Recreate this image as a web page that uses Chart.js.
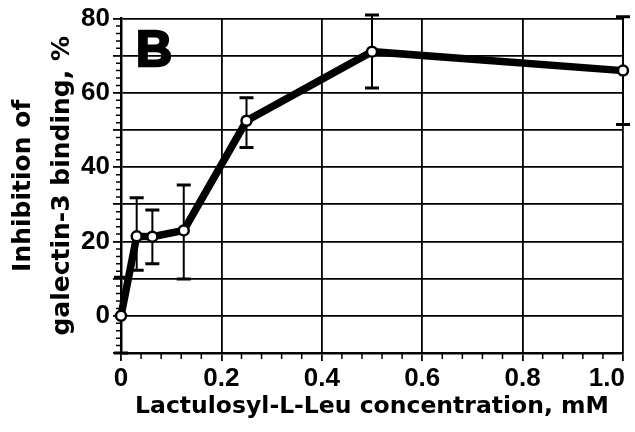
<!DOCTYPE html>
<html>
<head>
<meta charset="utf-8">
<script src="https://cdn.jsdelivr.net/npm/chart.js@4"></script>
<style>
  html, body { margin: 0; padding: 0; background: #fff; }
  #wrap { width: 635px; height: 432px; }
</style>
</head>
<body>
<div id="wrap"><canvas id="inhibChart"></canvas></div>
<script>
// values (panel B)
const concentrations = [0, 0.03125, 0.0625, 0.125, 0.25, 0.5, 1.0];
const inhibition = [0, 21.4, 21.3, 23.0, 52.5, 71.1, 66.0];
const errHigh = [10.4, 31.8, 28.5, 35.2, 58.7, 81.0, 80.5];
const errLow = [-10, 12.3, 14.0, 9.9, 45.3, 61.3, 51.5];
const xTicks = [0, 0.2, 0.4, 0.6, 0.8, 1.0];
const xTickLabels = ['0', '0.2', '0.4', '0.6', '0.8', '1.0'];
const yTicks = [0, 20, 40, 60, 80];

const tickFont = { family: '"Liberation Sans", Arial, sans-serif', weight: 'bold', size: 26 };
const titleFamily = '"DejaVu Sans", sans-serif';

// error bars, minor ticks, x labels and the panel letter
const extras = {
  id: 'extras',
  beforeDatasetsDraw(chart) {
    const { ctx, scales: { x, y } } = chart;
    ctx.save();
    ctx.strokeStyle = '#000';
    concentrations.forEach((c, i) => {
      const px = x.getPixelForValue(c);
      const hi = y.getPixelForValue(errHigh[i]);
      const lo = y.getPixelForValue(errLow[i]);
      ctx.lineWidth = 2;
      ctx.beginPath();
      ctx.moveTo(px, hi);
      ctx.lineTo(px, lo);
      ctx.stroke();
      ctx.lineWidth = 3;
      ctx.beginPath();
      ctx.moveTo(px - 7, hi); ctx.lineTo(px + 7, hi);
      ctx.moveTo(px - 7, lo); ctx.lineTo(px + 7, lo);
      ctx.stroke();
    });
    ctx.restore();
  },
  afterDraw(chart) {
    const { ctx, scales: { x, y } } = chart;
    ctx.save();
    ctx.strokeStyle = '#000';
    ctx.lineWidth = 1.5;
    ctx.beginPath();
    for (let v = -10; v <= 80; v += 2) {
      if (v % 10 === 0) continue;
      const py = y.getPixelForValue(v);
      ctx.moveTo(y.right - 5, py);
      ctx.lineTo(y.right, py);
    }
    for (let k = 1; k < 25; k++) {
      if (k % 5 === 0) continue;
      const px = x.getPixelForValue(k * 0.04);
      ctx.moveTo(px, x.top);
      ctx.lineTo(px, x.top + 6);
    }
    ctx.stroke();

    ctx.fillStyle = '#000';
    ctx.font = 'bold 26px "Liberation Sans", Arial, sans-serif';
    ctx.textBaseline = 'alphabetic';
    xTicks.forEach((v, i) => {
      const last = i === xTicks.length - 1;
      ctx.textAlign = last ? 'right' : 'center';
      ctx.fillText(xTickLabels[i], x.getPixelForValue(v) + (last ? 2 : 0), 386);
    });

    ctx.font = 'bold 50px "Liberation Sans", Arial, sans-serif';
    ctx.textAlign = 'left';
    ctx.lineWidth = 2.5;
    ctx.fillText('B', 136, 66);
    ctx.strokeText('B', 136, 66);
    ctx.restore();
  }
};

new Chart(document.getElementById('inhibChart'), {
  type: 'line',
  data: {
    datasets: [{
      data: concentrations.map((c, i) => ({ x: c, y: inhibition[i] })),
      borderColor: '#000',
      borderWidth: 7.5,
      pointRadius: 5,
      pointBorderWidth: 2.5,
      pointBackgroundColor: '#fff',
      pointBorderColor: '#000',
      tension: 0,
      clip: false
    }]
  },
  options: {
    responsive: true,
    maintainAspectRatio: false,
    animation: false,
    layout: { padding: { top: 16, right: 12, left: 0, bottom: 0 } },
    plugins: {
      legend: { display: false },
      tooltip: { enabled: false }
    },
    scales: {
      x: {
        type: 'linear',
        min: 0,
        max: 1,
        afterFit(s) { s.height = 79; },
        border: { color: '#000', width: 2.5 },
        grid: { color: '#000', lineWidth: 1.8, tickLength: 8 },
        ticks: { stepSize: 0.2, display: false, autoSkip: false },
        title: {
          display: true,
          text: 'Lactulosyl-L-Leu concentration, mM',
          color: '#000',
          font: { family: titleFamily, weight: 'bold', size: 23.5 },
          padding: { top: 0, bottom: 11 }
        }
      },
      y: {
        min: -10,
        max: 80,
        afterFit(s) { s.width = 121; },
        border: { color: '#000', width: 2.5 },
        grid: { color: '#000', lineWidth: 1.8, tickLength: 8 },
        ticks: {
          stepSize: 10,
          autoSkip: false,
          padding: 3,
          color: '#000',
          font: tickFont,
          callback: v => yTicks.includes(v) ? String(v) : ''
        },
        title: {
          display: true,
          text: ['Inhibition of', 'galectin-3 binding, %'],
          color: '#000',
          font: { family: titleFamily, weight: 'bold', size: 25, lineHeight: 1.56 },
          padding: { top: 4, bottom: 0 }
        }
      }
    }
  },
  plugins: [extras]
});
</script>
</body>
</html>
